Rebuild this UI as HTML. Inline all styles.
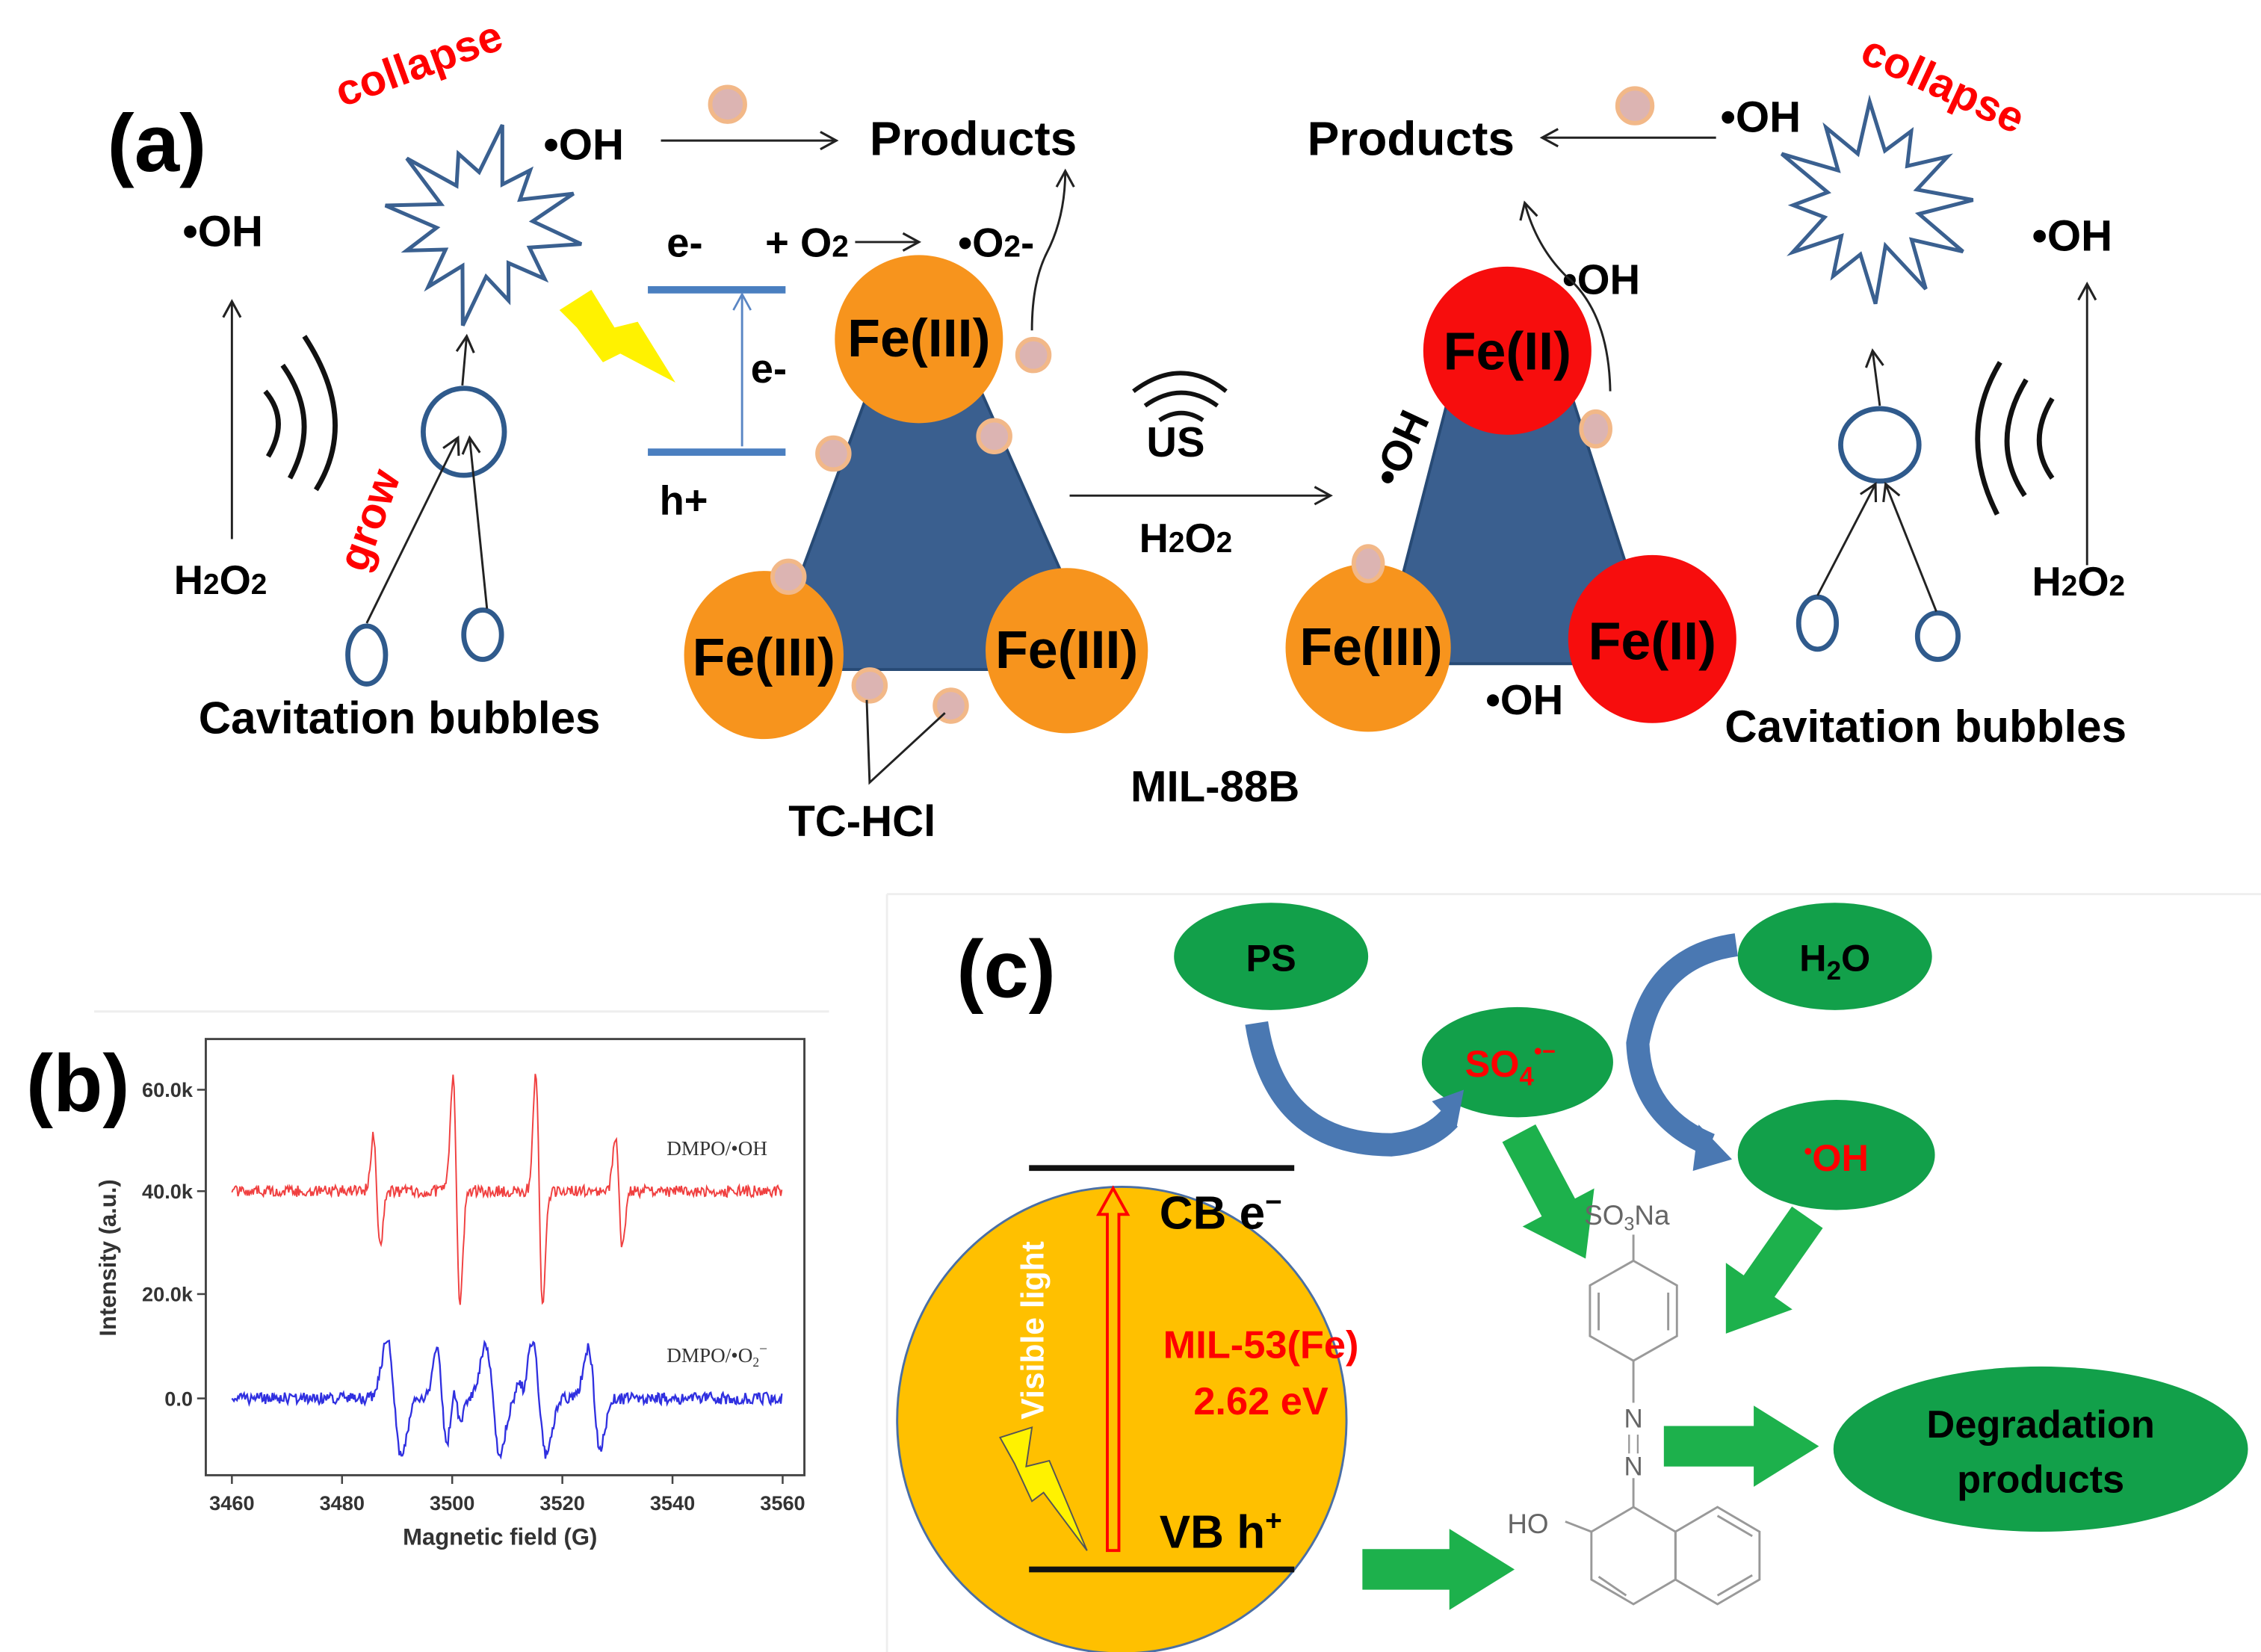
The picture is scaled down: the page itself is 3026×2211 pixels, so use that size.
<!DOCTYPE html>
<html><head><meta charset="utf-8">
<style>
html,body{margin:0;padding:0;background:#fff;}
svg{display:block;}
text{font-family:"Liberation Sans",Arial,sans-serif;}
.b{font-weight:bold;}
</style></head>
<body>
<svg id="s" width="3026" height="2211" viewBox="0 0 1560 1140" preserveAspectRatio="none" xmlns="http://www.w3.org/2000/svg">
<defs>
<marker id="ah" markerWidth="16" markerHeight="16" refX="13" refY="8" orient="auto" markerUnits="userSpaceOnUse">
<path d="M2,2 L13,8 L2,14" fill="none" stroke="#222" stroke-width="1.6"/></marker>
<marker id="ahb" markerWidth="16" markerHeight="16" refX="13" refY="8" orient="auto" markerUnits="userSpaceOnUse">
<path d="M2,2 L13,8 L2,14" fill="none" stroke="#5a86c4" stroke-width="1.4"/></marker>
</defs>
<rect width="1560" height="1140" fill="#fff"/>

<line x1="65" y1="698" x2="572" y2="698" stroke="#eee" stroke-width="1.5"/>
<line x1="612" y1="617" x2="612" y2="1140" stroke="#eee" stroke-width="1.5"/>
<line x1="612" y1="617" x2="1560" y2="617" stroke="#eee" stroke-width="1.5"/>

<!-- ============ PANEL A ============ -->
<text x="74" y="118" class="b" font-size="56">(a)</text>

<text class="b" font-size="30" fill="#f00" transform="translate(236,74) rotate(-20)">collapse</text>
<g id="star1"></g>
<text x="375" y="110" class="b" font-size="30">•OH</text>
<line x1="456" y1="97" x2="577" y2="97" stroke="#222" stroke-width="1.5" marker-end="url(#ah)"/>
<circle cx="502" cy="72" r="12" fill="#dcb4b2" stroke="#f2b888" stroke-width="3"/>
<text x="600" y="107" class="b" font-size="33">Products</text>

<text x="126" y="170" class="b" font-size="30">•OH</text>
<line x1="160" y1="372" x2="160" y2="208" stroke="#222" stroke-width="1.5" marker-end="url(#ah)"/>
<text x="120" y="410" class="b" font-size="28">H<tspan font-size="20">2</tspan>O<tspan font-size="20">2</tspan></text>
<g fill="none" stroke="#111" stroke-width="3.5">
<path d="M183,270 Q200,290 185,315"/>
<path d="M195,252 Q222,290 200,330"/>
<path d="M210,232 Q248,290 218,338"/>
</g>
<ellipse cx="320" cy="298" rx="28" ry="30" fill="none" stroke="#2f5a8c" stroke-width="3.5"/>
<line x1="319" y1="266" x2="322" y2="232" stroke="#222" stroke-width="1.5" marker-end="url(#ah)"/>
<ellipse cx="253" cy="452" rx="13" ry="20" fill="none" stroke="#2f5a8c" stroke-width="3.5"/>
<ellipse cx="333" cy="438" rx="13" ry="17" fill="none" stroke="#2f5a8c" stroke-width="3.5"/>
<line x1="253" y1="430" x2="316" y2="302" stroke="#222" stroke-width="1.5" marker-end="url(#ah)"/>
<line x1="336" y1="420" x2="324" y2="302" stroke="#222" stroke-width="1.5" marker-end="url(#ah)"/>
<text class="b" font-size="30" fill="#f00" transform="translate(252,396) rotate(-70)">grow</text>
<text x="137" y="506" class="b" font-size="31">Cavitation bubbles</text>

<polygon points="386,214 408,200 424,226 440,222 466,264 428,244 416,250 398,226" fill="#fff200"/>
<line x1="447" y1="200" x2="542" y2="200" stroke="#4a7fc0" stroke-width="5"/>
<line x1="447" y1="312" x2="542" y2="312" stroke="#4a7fc0" stroke-width="5"/>
<line x1="512" y1="308" x2="512" y2="203" stroke="#5a86c4" stroke-width="1.5" marker-end="url(#ahb)"/>
<text x="518" y="264" class="b" font-size="28">e-</text>
<text x="455" y="355" class="b" font-size="28">h+</text>
<text x="460" y="177" class="b" font-size="28">e-</text>
<text x="528" y="177" class="b" font-size="28">+ O<tspan font-size="21">2</tspan></text>
<line x1="590" y1="167" x2="634" y2="167" stroke="#222" stroke-width="1.5" marker-end="url(#ah)"/>
<text x="661" y="177" class="b" font-size="28">•O<tspan font-size="21">2</tspan>-</text>
<path d="M712,228 Q712,195 722,175 Q735,150 735,118" fill="none" stroke="#222" stroke-width="1.5" marker-end="url(#ah)"/>

<polygon points="600,268 676,268 762,462 528,462" fill="#3a5f8f" stroke="#274a75" stroke-width="2"/>
<circle cx="634" cy="234" r="58" fill="#f7941d"/>
<ellipse cx="527" cy="452" rx="55" ry="58" fill="#f7941d"/>
<ellipse cx="736" cy="449" rx="56" ry="57" fill="#f7941d"/>
<text x="634" y="246" class="b" font-size="37" text-anchor="middle">Fe(III)</text>
<text x="527" y="466" class="b" font-size="37" text-anchor="middle">Fe(III)</text>
<text x="736" y="461" class="b" font-size="37" text-anchor="middle">Fe(III)</text>
<g fill="#dcb4b2" stroke="#f2b888" stroke-width="3">
<circle cx="713" cy="245" r="11"/><circle cx="686" cy="301" r="11"/><circle cx="575" cy="313" r="11"/>
<circle cx="544" cy="398" r="11"/><circle cx="600" cy="473" r="11"/><circle cx="656" cy="487" r="11"/>
</g>
<polyline points="598,483 600,540 652,492" fill="none" stroke="#222" stroke-width="1.5"/>
<text x="544" y="577" class="b" font-size="30">TC-HCl</text>
<text x="780" y="553" class="b" font-size="30">MIL-88B</text>

<g fill="none" stroke="#111" stroke-width="3">
<path d="M782,270 Q815,245 846,270"/>
<path d="M790,280 Q815,262 840,280"/>
<path d="M800,290 Q815,280 830,290"/>
</g>
<text x="791" y="315" class="b" font-size="29">US</text>
<line x1="738" y1="342" x2="918" y2="342" stroke="#222" stroke-width="1.5" marker-end="url(#ah)"/>
<text x="786" y="381" class="b" font-size="28">H<tspan font-size="20">2</tspan>O<tspan font-size="20">2</tspan></text>

<polygon points="1000,272 1084,272 1144,458 952,458" fill="#3a5f8f" stroke="#274a75" stroke-width="2"/>
<circle cx="1040" cy="242" r="58" fill="#f70d0d"/>
<ellipse cx="944" cy="447" rx="57" ry="58" fill="#f7941d"/>
<ellipse cx="1140" cy="441" rx="58" ry="58" fill="#f70d0d"/>
<text x="1040" y="255" class="b" font-size="37" text-anchor="middle">Fe(II)</text>
<text x="946" y="459" class="b" font-size="37" text-anchor="middle">Fe(III)</text>
<text x="1140" y="455" class="b" font-size="37" text-anchor="middle">Fe(II)</text>
<g fill="#dcb4b2" stroke="#f2b888" stroke-width="3">
<ellipse cx="1101" cy="296" rx="10" ry="12"/><ellipse cx="944" cy="389" rx="10" ry="12"/>
</g>
<text class="b" font-size="29" transform="translate(964,338) rotate(-65)">•OH</text>
<text x="1078" y="203" class="b" font-size="29">•OH</text>
<text x="1025" y="493" class="b" font-size="29">•OH</text>
<path d="M1111,270 Q1110,215 1080,190 Q1060,170 1052,140" fill="none" stroke="#222" stroke-width="1.5" marker-end="url(#ah)"/>

<text x="902" y="107" class="b" font-size="33">Products</text>
<line x1="1184" y1="95" x2="1064" y2="95" stroke="#222" stroke-width="1.5" marker-end="url(#ah)"/>
<circle cx="1128" cy="73" r="12" fill="#dcb4b2" stroke="#f2b888" stroke-width="3"/>
<text x="1187" y="91" class="b" font-size="30">•OH</text>
<text class="b" font-size="30" fill="#f00" transform="translate(1282,42) rotate(25)">collapse</text>
<g id="star2"></g>
<text x="1402" y="173" class="b" font-size="30">•OH</text>
<line x1="1440" y1="390" x2="1440" y2="196" stroke="#222" stroke-width="1.5" marker-end="url(#ah)"/>
<text x="1402" y="411" class="b" font-size="28">H<tspan font-size="20">2</tspan>O<tspan font-size="20">2</tspan></text>
<g fill="none" stroke="#111" stroke-width="3.5">
<path d="M1380,250 Q1350,300 1378,355"/>
<path d="M1398,262 Q1372,305 1397,342"/>
<path d="M1416,275 Q1398,305 1416,330"/>
</g>
<ellipse cx="1297" cy="307" rx="27" ry="25" fill="none" stroke="#2f5a8c" stroke-width="3.5"/>
<line x1="1297" y1="280" x2="1292" y2="242" stroke="#222" stroke-width="1.5" marker-end="url(#ah)"/>
<ellipse cx="1254" cy="430" rx="13" ry="18" fill="none" stroke="#2f5a8c" stroke-width="3.5"/>
<ellipse cx="1337" cy="439" rx="14" ry="16" fill="none" stroke="#2f5a8c" stroke-width="3.5"/>
<line x1="1254" y1="411" x2="1294" y2="334" stroke="#222" stroke-width="1.5" marker-end="url(#ah)"/>
<line x1="1336" y1="422" x2="1301" y2="334" stroke="#222" stroke-width="1.5" marker-end="url(#ah)"/>
<text x="1190" y="512" class="b" font-size="31">Cavitation bubbles</text>

<!-- ============ PANEL B ============ -->
<text x="18" y="767" class="b" font-size="56">(b)</text>
<rect x="142" y="717" width="413" height="301" fill="none" stroke="#444" stroke-width="1.5"/>
<g stroke="#444" stroke-width="1.3">
<line x1="136" y1="752" x2="142" y2="752"/><line x1="136" y1="822" x2="142" y2="822"/>
<line x1="136" y1="893" x2="142" y2="893"/><line x1="136" y1="965" x2="142" y2="965"/>
<line x1="160" y1="1018" x2="160" y2="1024"/><line x1="236" y1="1018" x2="236" y2="1024"/>
<line x1="312" y1="1018" x2="312" y2="1024"/><line x1="388" y1="1018" x2="388" y2="1024"/>
<line x1="464" y1="1018" x2="464" y2="1024"/><line x1="540" y1="1018" x2="540" y2="1024"/>
</g>
<g class="b" font-size="14" fill="#333" text-anchor="end">
<text x="133" y="757">60.0k</text><text x="133" y="827">40.0k</text>
<text x="133" y="898">20.0k</text><text x="133" y="970">0.0</text>
</g>
<g class="b" font-size="14" fill="#333" text-anchor="middle">
<text x="160" y="1042">3460</text><text x="236" y="1042">3480</text><text x="312" y="1042">3500</text>
<text x="388" y="1042">3520</text><text x="464" y="1042">3540</text><text x="540" y="1042">3560</text>
</g>
<text x="345" y="1066" class="b" font-size="16" fill="#333" text-anchor="middle">Magnetic field (G)</text>
<text class="b" font-size="16" fill="#333" text-anchor="middle" transform="translate(80,868) rotate(-90)">Intensity (a.u.)</text>
<path id="red" fill="none" stroke="#f04040" stroke-width="1" d=""/>
<path id="blue" fill="none" stroke="#3030e0" stroke-width="1.2" d=""/>
<text x="460" y="797" font-size="14" fill="#333" style="font-family:'Liberation Serif',serif">DMPO/•OH</text>
<text x="460" y="940" font-size="14" fill="#333" style="font-family:'Liberation Serif',serif">DMPO/•O<tspan font-size="9" dy="3">2</tspan><tspan dy="-9" font-size="10">−</tspan></text>

<!-- ============ PANEL C ============ -->
<text x="660" y="688" class="b" font-size="56">(c)</text>
<g fill="#12a04a">
<ellipse cx="877" cy="660" rx="67" ry="37"/>
<ellipse cx="1266" cy="660" rx="67" ry="37"/>
<ellipse cx="1047" cy="733" rx="66" ry="38"/>
<ellipse cx="1267" cy="797" rx="68" ry="38"/>
<ellipse cx="1408" cy="1000" rx="143" ry="57"/>
</g>
<text x="877" y="670" class="b" font-size="26" text-anchor="middle">PS</text>
<text x="1266" y="670" class="b" font-size="26" text-anchor="middle">H<tspan font-size="18" dy="6">2</tspan><tspan dy="-6">O</tspan></text>
<text x="1042" y="743" class="b" font-size="26" fill="#f00" text-anchor="middle">SO<tspan font-size="18" dy="6">4</tspan><tspan font-size="16" dy="-18">•−</tspan></text>
<text x="1267" y="808" class="b" font-size="26" fill="#f00" text-anchor="middle"><tspan font-size="16" dy="-8">•</tspan><tspan dy="8">OH</tspan></text>
<text x="1408" y="992" class="b" font-size="27" text-anchor="middle">Degradation</text>
<text x="1408" y="1030" class="b" font-size="27" text-anchor="middle">products</text>

<path d="M867,706 Q880,790 960,790 Q985,788 1000,772" fill="none" stroke="#4a78b2" stroke-width="16"/>
<polygon points="988,760 1010,752 1005,778" fill="#4a78b2"/>
<path d="M1198,652 Q1140,660 1130,720 Q1132,770 1180,790" fill="none" stroke="#4a78b2" stroke-width="16"/>
<polygon points="1172,776 1195,800 1168,808" fill="#4a78b2"/>

<ellipse cx="774" cy="980" rx="155" ry="161" fill="#ffc000" stroke="#4a6fa5" stroke-width="1.5"/>
<line x1="710" y1="806" x2="893" y2="806" stroke="#111" stroke-width="4"/>
<line x1="710" y1="1083" x2="893" y2="1083" stroke="#111" stroke-width="4"/>
<polygon points="764,1070 772,1070 772,838 778,838 768,820 758,838 764,838" fill="none" stroke="#f00" stroke-width="2"/>
<text x="800" y="848" class="b" font-size="32">CB e<tspan font-size="20" dy="-12">−</tspan></text>
<text x="800" y="1068" class="b" font-size="32">VB h<tspan font-size="20" dy="-12">+</tspan></text>
<text x="870" y="937" class="b" font-size="27" fill="#f00" text-anchor="middle">MIL-53(Fe)</text>
<text x="870" y="976" class="b" font-size="27" fill="#f00" text-anchor="middle">2.62 eV</text>
<text class="b" font-size="22" fill="#fff" text-anchor="middle" transform="translate(720,918) rotate(-90)">Visible light</text>
<polygon points="690,992 712,985 708,1012 724,1008 750,1070 720,1030 712,1036 700,1010" fill="#fff200" stroke="#555" stroke-width="1"/>

<g fill="#1db14c">
<polygon transform="translate(1048,782) rotate(62)" points="0,-13 58,-13 58,-28 98,0 58,28 58,13 0,13"/>
<polygon transform="translate(1247,840) rotate(125)" points="0,-13 58,-13 58,-28 98,0 58,28 58,13 0,13"/>
<polygon points="1148,984 1210,984 1210,970 1255,998 1210,1026 1210,1012 1148,1012"/>
<polygon points="940,1069 1000,1069 1000,1055 1045,1083 1000,1111 1000,1097 940,1097"/>
</g>

<g fill="none" stroke="#999" stroke-width="1.5">
<line x1="1127" y1="852" x2="1127" y2="870"/>
<polygon points="1127,870 1157,887 1157,922 1127,939 1097,922 1097,887"/>
<line x1="1151" y1="892" x2="1151" y2="918"/><line x1="1103" y1="892" x2="1103" y2="918"/>
<line x1="1127" y1="939" x2="1127" y2="968"/>
<line x1="1127" y1="1020" x2="1127" y2="1040"/>
<polygon points="1127,1040 1156,1057 1156,1090 1127,1107 1098,1090 1098,1057"/>
<polygon points="1156,1057 1185,1040 1214,1057 1214,1090 1185,1107 1156,1090"/>
<line x1="1185" y1="1046" x2="1209" y2="1060"/><line x1="1209" y1="1087" x2="1185" y2="1101"/>
<line x1="1122" y1="1101" x2="1103" y2="1088"/>
<line x1="1098" y1="1057" x2="1080" y2="1050"/>
</g>
<text x="1093" y="845" font-size="19" fill="#666">SO<tspan font-size="13" dy="4">3</tspan><tspan dy="-4">Na</tspan></text>
<text x="1127" y="985" font-size="18" fill="#666" text-anchor="middle">N</text>
<text x="1127" y="1018" font-size="18" fill="#666" text-anchor="middle">N</text>
<line x1="1124" y1="990" x2="1124" y2="1003" stroke="#999" stroke-width="1.2"/>
<line x1="1130" y1="990" x2="1130" y2="1003" stroke="#999" stroke-width="1.2"/>
<text x="1040" y="1058" font-size="19" fill="#666">HO</text>
</svg>
<script>
(function(){
var seed=12345;function r(){seed=(seed*16807)%2147483647;return seed/2147483647;}
function star(cx,cy,R,ri,n,rot){var p=[];for(var i=0;i<2*n;i++){var a=rot+i*Math.PI/n;var rad=(i%2==0)?R*(0.8+0.35*r()):ri*(0.9+0.2*r());p.push((cx+rad*Math.cos(a)).toFixed(1)+','+(cy+rad*Math.sin(a)).toFixed(1));}return '<polygon points="'+p.join(' ')+'" fill="#fff" stroke="#3a6090" stroke-width="2.6" stroke-linejoin="miter"/>';}
document.getElementById('star1').innerHTML=star(333,155,62,34,12,-1.9);
document.getElementById('star2').innerHTML=star(1292,140,62,34,12,-1.6);
function dg(x,c,w,A){var u=(x-c)/w;return -A*u*Math.exp(-u*u)/0.4289;}
var d='',d2='';
for(var x=160;x<=540;x+=0.7){
 var y=822+(r()-0.5)*8;
 y-=dg(x,260,3.4,38)+dg(x,315,3.4,80)+dg(x,372,3.4,80)+dg(x,427,3.4,38);
 d+=(d?'L':'M')+x.toFixed(1)+','+y.toFixed(1);
 var y2=965+(r()-0.5)*8;
 y2-=dg(x,272,7,40)+dg(x,305,5,35)+dg(x,315,4,14)+dg(x,340,7,38)+dg(x,360,3,10)+dg(x,372,7,40)+dg(x,410,6,35);
 d2+=(d2?'L':'M')+x.toFixed(1)+','+y2.toFixed(1);
}
document.getElementById('red').setAttribute('d',d);
document.getElementById('blue').setAttribute('d',d2);
})();
</script>
</body></html>
